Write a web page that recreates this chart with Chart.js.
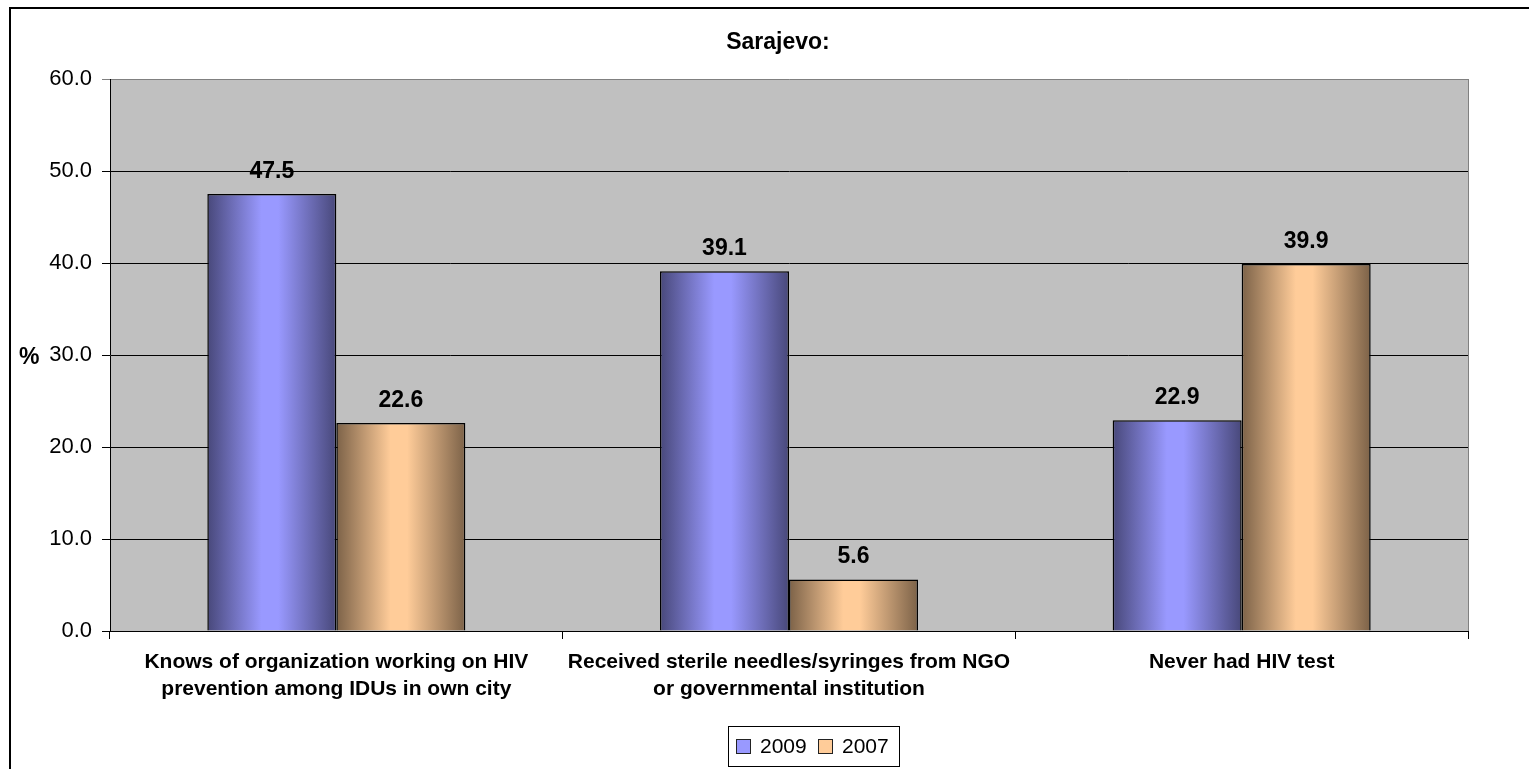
<!DOCTYPE html>
<html>
<head>
<meta charset="utf-8">
<title>Sarajevo</title>
<script src="https://cdn.jsdelivr.net/npm/chart.js@4"></script>
<style>
  body { margin: 0; background: #fff; }
  canvas { display: block; }
</style>
</head>
<body>
<canvas id="chart" width="1529" height="769"></canvas>
<script>
// values
const categories = [
  ["Knows of organization working on HIV", "prevention among IDUs in own city"],
  ["Received sterile needles/syringes from NGO", "or governmental institution"],
  ["Never had HIV test"]
];
const values2009 = [47.5, 39.1, 22.9];
const values2007 = [22.6, 5.6, 39.9];
const seriesNames = ["2009", "2007"];
const yTicks = [0, 10, 20, 30, 40, 50, 60];

const chartTitle = "Sarajevo:";
const yTitle = "%";

const FONT = "'Liberation Sans', Arial, sans-serif";

// light / dark ends of the bar shading
const shades = [
  { light: "#9999FF", dark: "#48487A" },
  { light: "#FFCC99", dark: "#7C6248" }
];

const decorPlugin = {
  id: "decor",
  beforeDraw(chart) {
    const { ctx, chartArea: a } = chart;
    ctx.save();
    ctx.fillStyle = "#C0C0C0";
    ctx.fillRect(a.left, a.top, a.right - a.left, a.bottom - a.top);
    ctx.restore();
  },
  beforeDatasetsDraw(chart) {
    const ctx = chart.ctx;
    chart.data.datasets.forEach((ds, i) => {
      const meta = chart.getDatasetMeta(i);
      meta.data.forEach(bar => {
        const x0 = bar.x - bar.width / 2, x1 = bar.x + bar.width / 2;
        const g = ctx.createLinearGradient(x0, 0, x1, 0);
        g.addColorStop(0, shades[i].dark);
        g.addColorStop(0.42, shades[i].light);
        g.addColorStop(0.55, shades[i].light);
        g.addColorStop(1, shades[i].dark);
        // own copy per bar, the resolved options are shared
        bar.options = Object.assign({}, bar.options, { backgroundColor: g });
      });
    });
  },
  afterDatasetsDraw(chart) {
    const ctx = chart.ctx;
    ctx.save();
    ctx.font = "bold 23px " + FONT;
    ctx.fillStyle = "#000";
    ctx.textAlign = "center";
    ctx.textBaseline = "alphabetic";
    chart.data.datasets.forEach((ds, i) => {
      chart.getDatasetMeta(i).data.forEach((bar, j) => {
        ctx.fillText(ds.data[j].toFixed(1), bar.x, bar.y - 16);
      });
    });
    ctx.restore();
  },
  afterDraw(chart) {
    const { ctx, chartArea: a } = chart;
    ctx.save();

    // right edge of plot area
    ctx.strokeStyle = "#808080";
    ctx.lineWidth = 1;
    ctx.beginPath();
    ctx.moveTo(a.right + 0.5, a.top);
    ctx.lineTo(a.right + 0.5, a.bottom);
    ctx.stroke();

    // outer frame (left and top only visible)
    ctx.strokeStyle = "#000";
    ctx.lineWidth = 2;
    ctx.beginPath();
    ctx.moveTo(10, chart.height);
    ctx.lineTo(10, 8);
    ctx.lineTo(chart.width, 8);
    ctx.stroke();

    // category labels under the x axis
    const xs = chart.scales.x;
    ctx.fillStyle = "#000";
    ctx.font = "bold 21px " + FONT;
    ctx.textAlign = "center";
    ctx.textBaseline = "middle";
    categories.forEach((lines, i) => {
      const cx = xs.getPixelForValue(i);
      lines.forEach((line, k) => {
        ctx.fillText(line, cx, 662 + k * 27);
      });
    });

    // title
    ctx.font = "bold 23px " + FONT;
    ctx.textBaseline = "alphabetic";
    ctx.fillText(chartTitle, 778, 49);

    // y title
    ctx.textAlign = "left";
    ctx.fillText(yTitle, 19, 364);

    // legend
    const lx = 728, ly = 726, lw = 171, lh = 40;
    ctx.fillStyle = "#fff";
    ctx.fillRect(lx, ly, lw, lh);
    ctx.strokeStyle = "#000";
    ctx.lineWidth = 1;
    ctx.strokeRect(lx + 0.5, ly + 0.5, lw, lh);
    ctx.font = "21px " + FONT;
    ctx.textBaseline = "middle";
    let x = 736;
    chart.data.datasets.forEach((ds, i) => {
      ctx.fillStyle = shades[i].light;
      ctx.fillRect(x, 739, 15, 15);
      ctx.strokeStyle = "#222";
      ctx.strokeRect(x + 0.5, 739.5, 14, 14);
      ctx.fillStyle = "#000";
      ctx.textAlign = "left";
      ctx.fillText(ds.label, x + 24, 747);
      x += 82;
    });
    ctx.restore();
  }
};

new Chart(document.getElementById("chart"), {
  type: "bar",
  data: {
    labels: categories,
    datasets: [
      {
        label: seriesNames[0],
        data: values2009,
        backgroundColor: shades[0].light,
        borderColor: "#000",
        borderWidth: 1.5,
        categoryPercentage: 0.57,
        barPercentage: 1
      },
      {
        label: seriesNames[1],
        data: values2007,
        backgroundColor: shades[1].light,
        borderColor: "#000",
        borderWidth: 1.5,
        categoryPercentage: 0.57,
        barPercentage: 1
      }
    ]
  },
  options: {
    responsive: false,
    animation: false,
    layout: { padding: { top: 79, right: 61, bottom: 0, left: 0 } },
    plugins: {
      legend: { display: false },
      title: { display: false },
      tooltip: { enabled: false }
    },
    scales: {
      x: {
        offset: true,
        grid: { drawOnChartArea: false, drawTicks: true, tickLength: 8, color: "#000" },
        border: { color: "#000", width: 1 },
        ticks: { display: false },
        afterFit(scale) { scale.height = 138; }
      },
      y: {
        min: 0,
        max: 60,
        afterBuildTicks(scale) { scale.ticks = yTicks.map(v => ({ value: v })); },
        grid: {
          color: ctx => (ctx.tick && ctx.tick.value === 60 ? "#808080" : "#000"),
          tickLength: 8
        },
        border: { color: "#000", width: 1 },
        ticks: {
          color: "#000",
          font: { family: FONT, size: 22 },
          padding: 10,
          callback: v => Number(v).toFixed(1)
        },
        afterFit(scale) { scale.width = 110; }
      }
    }
  },
  plugins: [decorPlugin]
});
</script>
</body>
</html>
